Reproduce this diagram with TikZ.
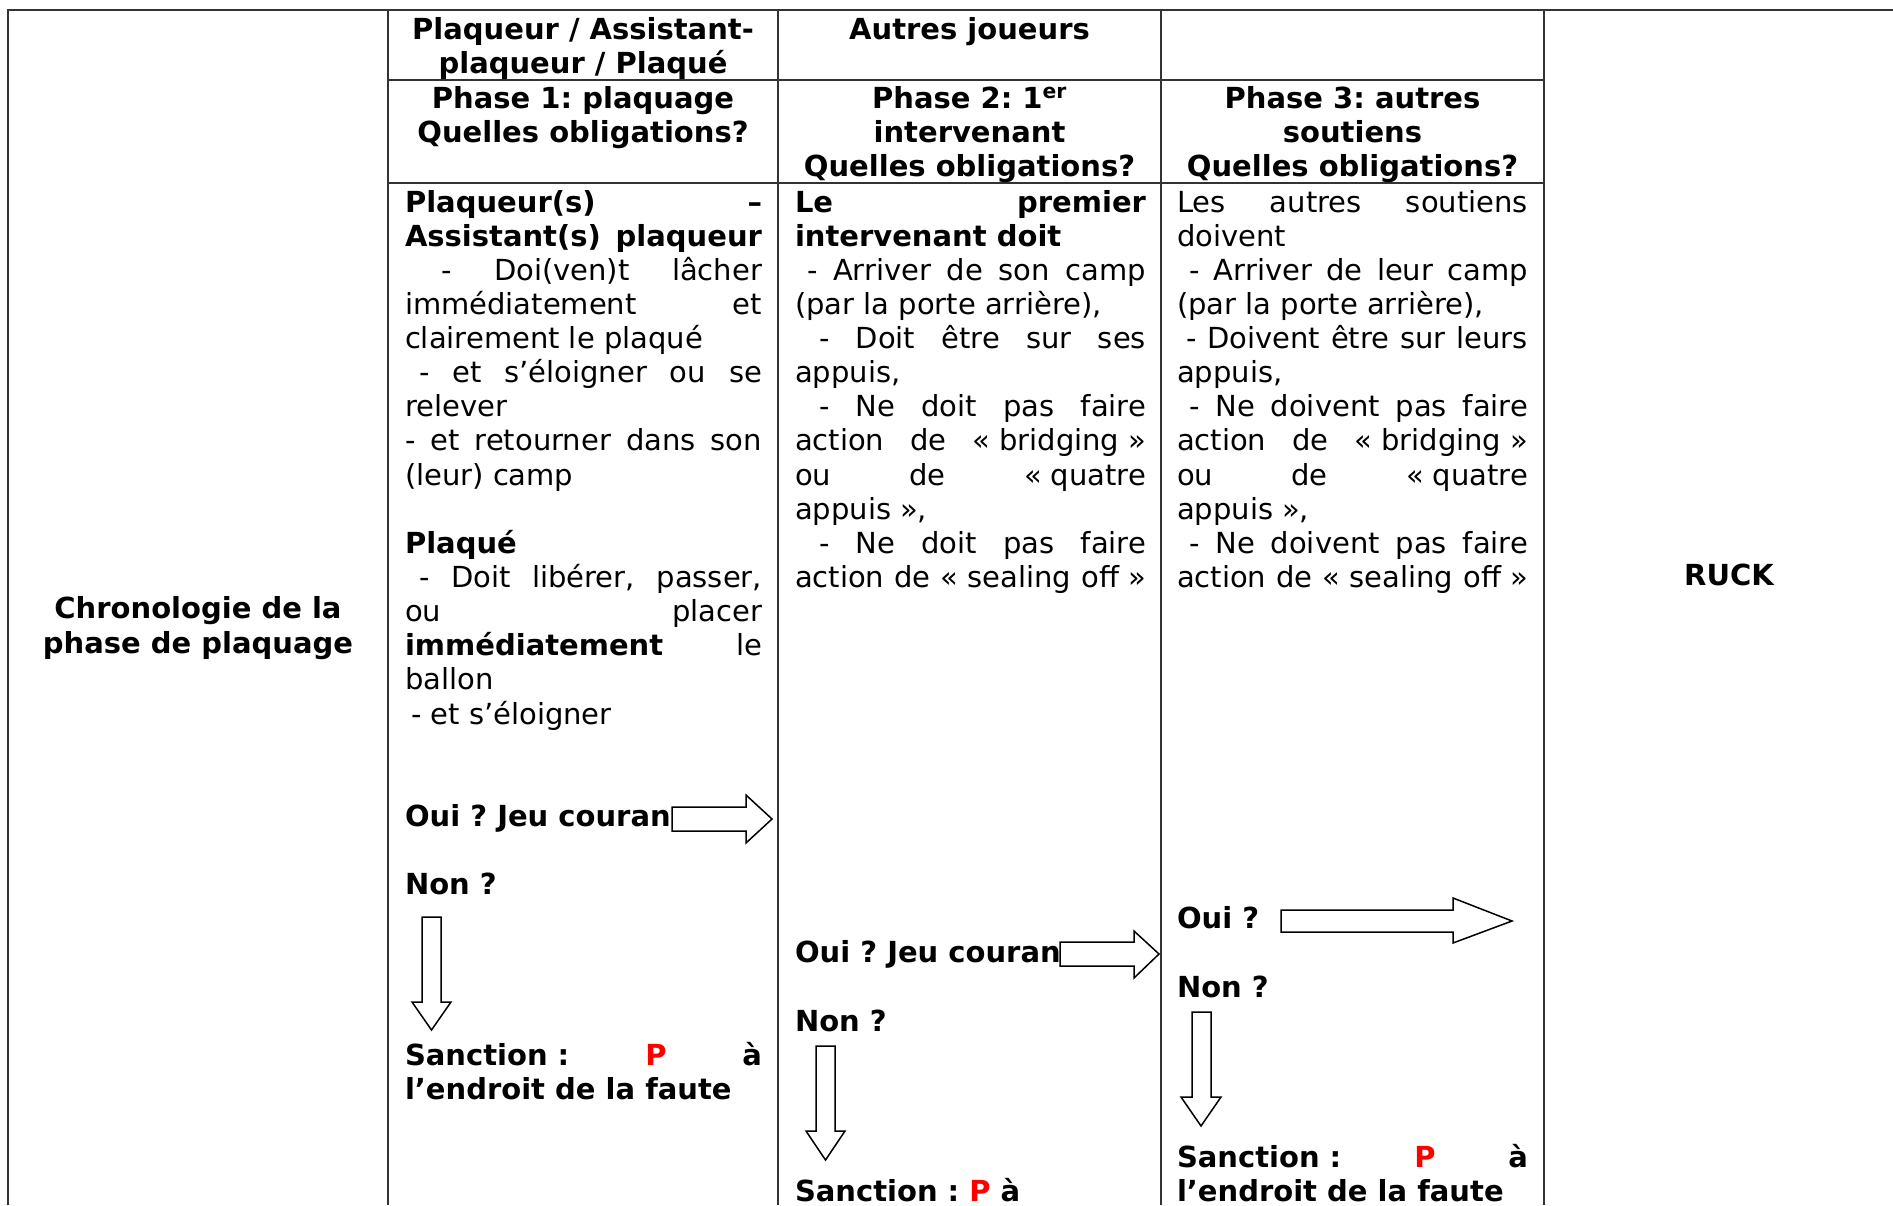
\documentclass[tikz,border=0pt]{standalone}
\usepackage{fontspec}
\setmainfont{DejaVu Sans}
\usepackage{xcolor}
\newcommand\jline[2]{\makebox[#1][s]{#2}}
\begin{document}
\frenchspacing
\begin{tikzpicture}[x=1pt,y=-1pt,
  every node/.style={font=\fontsize{29}{34}\selectfont\frenchspacing, inner sep=0pt, outer sep=0pt},
  ln/.style={anchor=base west},
  hd/.style={anchor=base, font=\fontsize{29}{34}\selectfont\frenchspacing\bfseries},
  grid/.style={draw=black!80, line width=1.6pt},
  blk/.style={draw=black, fill=white, line width=1.5pt, line join=miter}]
\useasboundingbox (0,0) rectangle (1893,1205);
% table grid
\draw[grid] (8,1205) -- (8,10) -- (1893,10);
\foreach \x in {388,778,1161,1544} \draw[grid] (\x,10) -- (\x,1205);
\draw[grid] (388,80) -- (1544,80);
\draw[grid] (388,183) -- (1544,183);
\begin{scope}[shift={(0,2)}]
% headers
\node[hd] (h1) at (583,37) {Plaqueur / Assistant-};
\node[hd] (h2) at (583,71) {plaqueur / Plaqué};
\node[hd] (h3) at (969.5,37) {Autres joueurs};
\node[hd] (p1a) at (583,106) {Phase 1: plaquage};
\node[hd] (p1b) at (583,140) {Quelles obligations?};
\node[hd] (p2a) at (969.5,106) {Phase 2: 1\textsuperscript{er}};
\node[hd] (p2b) at (969.5,140) {intervenant};
\node[hd] (p2c) at (969.5,174) {Quelles obligations?};
\node[hd] (p3a) at (1352.5,106) {Phase 3: autres};
\node[hd] (p3b) at (1352.5,140) {soutiens};
\node[hd] (p3c) at (1352.5,174) {Quelles obligations?};
\node[hd] (c1a) at (198,616) {Chronologie de la};
\node[hd] (c1b) at (198,651) {phase de plaquage};
\node[hd] (ruck) at (1729,583) {RUCK};
% column 2
\node[ln] (a1) at (405,210) {\jline{357pt}{\bfseries Plaqueur(s) –}};
\node[ln] (a2) at (405,244.1) {\jline{357pt}{\bfseries Assistant(s) plaqueur}};
\node[ln] (a3) at (405,278.3) {\jline{357pt}{\hspace*{36pt}- Doi(ven)t lâcher}};
\node[ln] (a4) at (405,312.4) {\jline{357pt}{immédiatement et}};
\node[ln] (a5) at (405,346.5) {clairement le plaqué};
\node[ln] (a6) at (405,380.7) {\jline{357pt}{\hspace*{14pt}- et s’éloigner ou se}};
\node[ln] (a7) at (405,414.8) {relever};
\node[ln] (a8) at (405,448.9) {\jline{357pt}{- et retourner dans son}};
\node[ln] (a9) at (405,483.0) {(leur) camp};
\node[ln] (a11) at (405,551.3) {\bfseries Plaqué};
\node[ln] (a12) at (405,585.4) {\jline{357pt}{\hspace*{14pt}- Doit libérer, passer,}};
\node[ln] (a13) at (405,619.6) {\jline{357pt}{ou placer}};
\node[ln] (a14) at (405,653.7) {\jline{357pt}{\textbf{immédiatement} le}};
\node[ln] (a15) at (405,687.8) {ballon};
\node[ln] (a16) at (405,722.0) {\hspace*{6pt}- et s’éloigner};
\node[ln] (a19) at (405,824.3) {\bfseries Oui ? Jeu couran};
\node[ln] (a21) at (405,892.6) {\bfseries Non ?};
\node[ln] (a26) at (405,1063.3) {\jline{357pt}{\bfseries Sanction\kern10pt: \textcolor{red}{P} à}};
\node[ln] (a27) at (405,1097.4) {\bfseries l’endroit de la faute};
% column 3
\node[ln] (b1) at (795,210) {\jline{351pt}{\bfseries Le premier}};
\node[ln] (b2) at (795,244.1) {\bfseries intervenant doit};
\node[ln] (b3) at (795,278.3) {\jline{351pt}{\hspace*{12pt}- Arriver de son camp}};
\node[ln] (b4) at (795,312.4) {(par la porte arrière),};
\node[ln] (b5) at (795,346.5) {\jline{351pt}{\hspace*{24pt}- Doit être sur ses}};
\node[ln] (b6) at (795,380.7) {appuis,};
\node[ln] (b7) at (795,414.8) {\jline{351pt}{\hspace*{24pt}- Ne doit pas faire}};
\node[ln] (b8) at (795,448.9) {\jline{351pt}{action de «\kern9pt bridging\kern9pt»}};
\node[ln] (b9) at (795,483.0) {\jline{351pt}{ou de «\kern9pt quatre}};
\node[ln] (b10) at (795,517.2) {appuis\kern9pt»,};
\node[ln] (b11) at (795,551.3) {\jline{351pt}{\hspace*{24pt}- Ne doit pas faire}};
\node[ln] (b12) at (795,585.4) {\jline{351pt}{action de «\kern9pt sealing off\kern9pt»}};
\node[ln] (b23) at (795,960.9) {\bfseries Oui ? Jeu couran};
\node[ln] (b25) at (795,1029.1) {\bfseries Non ?};
\node[ln] (b30) at (795,1199.8) {\bfseries Sanction\kern10pt: \textcolor{red}{P} à};
% column 4
\node[ln] (c1) at (1177,210) {\jline{351pt}{Les autres soutiens}};
\node[ln] (c2) at (1177,244.1) {doivent};
\node[ln] (c3) at (1177,278.3) {\jline{351pt}{\hspace*{12pt}- Arriver de leur camp}};
\node[ln] (c4) at (1177,312.4) {(par la porte arrière),};
\node[ln] (c5) at (1177,346.5) {\jline{351pt}{\hspace*{9pt}- Doivent être sur leurs}};
\node[ln] (c6) at (1177,380.7) {appuis,};
\node[ln] (c7) at (1177,414.8) {\jline{351pt}{\hspace*{12pt}- Ne doivent pas faire}};
\node[ln] (c8) at (1177,448.9) {\jline{351pt}{action de «\kern9pt bridging\kern9pt»}};
\node[ln] (c9) at (1177,483.0) {\jline{351pt}{ou de «\kern9pt quatre}};
\node[ln] (c10) at (1177,517.2) {appuis\kern9pt»,};
\node[ln] (c11) at (1177,551.3) {\jline{351pt}{\hspace*{12pt}- Ne doivent pas faire}};
\node[ln] (c12) at (1177,585.4) {\jline{351pt}{action de «\kern9pt sealing off\kern9pt»}};
\node[ln] (c22) at (1177,926.7) {\bfseries Oui ?};
\node[ln] (c24) at (1177,995.0) {\bfseries Non ?};
\node[ln] (c29) at (1177,1165.6) {\jline{351pt}{\bfseries Sanction\kern10pt: \textcolor{red}{P} à}};
\node[ln] (c30) at (1177,1199.8) {\bfseries l’endroit de la faute};
\end{scope}
% block arrows
\draw[blk] (672,807) -- (746,807) -- (746,795) -- (772,819) -- (746,843) -- (746,831) -- (672,831) -- cycle;
\draw[blk] (1060,942) -- (1134,942) -- (1134,931) -- (1159,954) -- (1134,978) -- (1134,966) -- (1060,966) -- cycle;
\draw[blk] (1281,910) -- (1453,910) -- (1453,898) -- (1512,921) -- (1453,943) -- (1453,932) -- (1281,932) -- cycle;
\draw[blk] (422,917) -- (422,1002) -- (412,1002) -- (431.5,1030) -- (451,1002) -- (441,1002) -- (441,917) -- cycle;
\draw[blk] (816,1046) -- (816,1131) -- (806,1131) -- (825.5,1160) -- (845,1131) -- (835,1131) -- (835,1046) -- cycle;
\draw[blk] (1192,1012) -- (1192,1097) -- (1181,1097) -- (1201,1126) -- (1221,1097) -- (1211,1097) -- (1211,1012) -- cycle;
\end{tikzpicture}
\end{document}
